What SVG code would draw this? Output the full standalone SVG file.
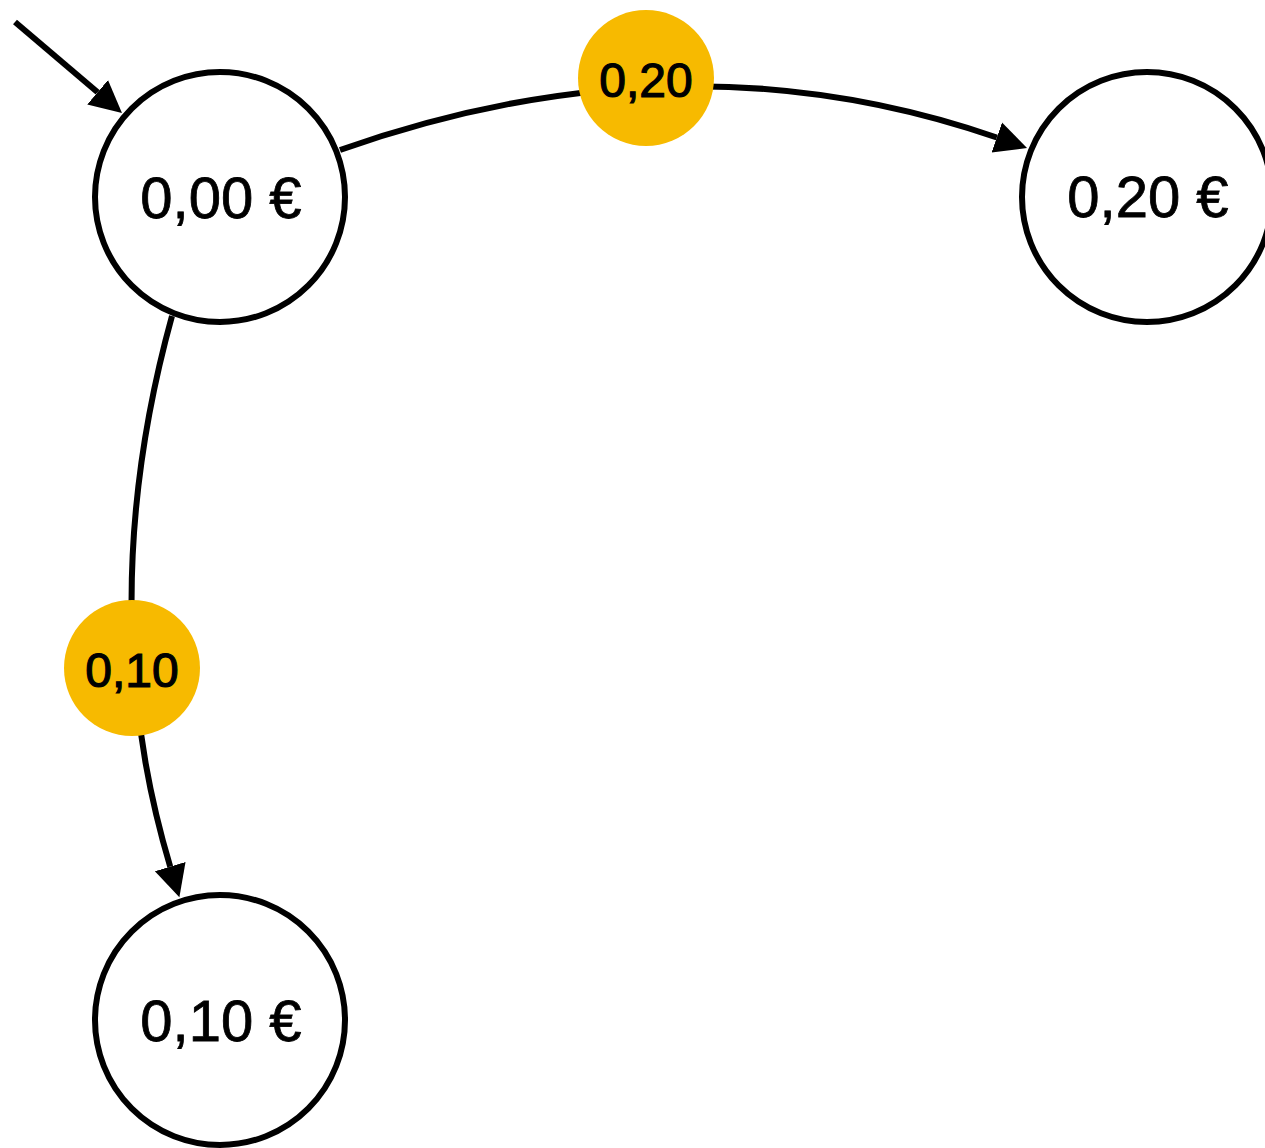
<svg xmlns="http://www.w3.org/2000/svg" width="1265" height="1148" viewBox="0 0 1265 1148">
  <style>
    .state { fill: #ffffff; stroke: #000000; stroke-width: 6; }
    .state-text { font-family: "Liberation Sans", Arial, sans-serif; font-size: 58px; fill: #000000; stroke: #000000; stroke-width: 0.8; text-anchor: middle; }
    .edge { fill: none; stroke: #000000; stroke-width: 6; }
    .coin { fill: #F7BA00; stroke: none; }
    .coin-text { font-family: "Liberation Sans", Arial, sans-serif; font-size: 48px; fill: #000000; stroke: #000000; stroke-width: 1.2; text-anchor: middle; }
  </style>
  <defs>
    <marker id="arrow" markerUnits="userSpaceOnUse" markerWidth="34" markerHeight="34" viewBox="0 -17 34 34" refX="0" refY="0" orient="auto">
      <path d="M0,-16 L32,0 L0,16 Z" fill="#000000"/>
    </marker>
  </defs>
  <rect width="1265" height="1148" fill="#ffffff"/>

  <g id="connectors">
    <path id="edge-start" class="edge" d="M15,22 L97.6,92.3" marker-end="url(#arrow)"/>
    <path id="edge-000-020" class="edge" d="M340,150 Q683,29 996.8,137.5" marker-end="url(#arrow)"/>
    <path id="edge-000-010" class="edge" d="M172,316 Q92,606 170.2,866.6" marker-end="url(#arrow)"/>
  </g>

  <g id="label-020">
    <circle class="coin" cx="646" cy="78" r="68"/>
    <text class="coin-text" x="646" y="97">0,20</text>
  </g>
  <g id="label-010">
    <circle class="coin" cx="132" cy="668" r="68"/>
    <text class="coin-text" x="132" y="687">0,10</text>
  </g>

  <g id="node-000">
    <circle class="state" cx="220" cy="197" r="125"/>
    <text class="state-text" x="221" y="218">0,00 €</text>
  </g>
  <g id="node-020">
    <circle class="state" cx="1147" cy="197" r="125"/>
    <text class="state-text" x="1148" y="217">0,20 €</text>
  </g>
  <g id="node-010">
    <circle class="state" cx="220" cy="1020" r="125"/>
    <text class="state-text" x="221" y="1041">0,10 €</text>
  </g>
</svg>
